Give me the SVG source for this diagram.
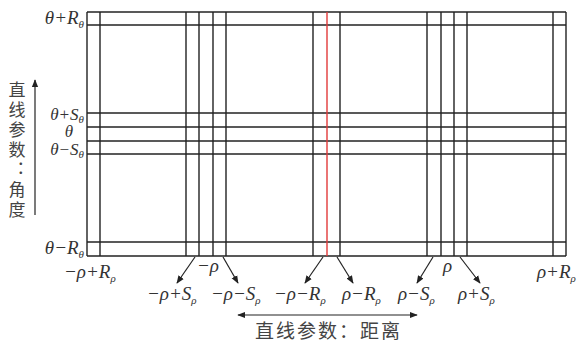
<svg xmlns="http://www.w3.org/2000/svg" width="582" height="345" viewBox="0 0 582 345">
<defs>
<marker id="ah" viewBox="0 0 10 10" refX="9" refY="5" markerWidth="8" markerHeight="8" markerUnits="userSpaceOnUse" orient="auto">
<path d="M0,1 L10,5 L0,9 Z" fill="#222"/>
</marker>
<marker id="ahs" viewBox="0 0 10 10" refX="9" refY="5" markerWidth="8" markerHeight="8" markerUnits="userSpaceOnUse" orient="auto-start-reverse">
<path d="M0,1 L10,5 L0,9 Z" fill="#222"/>
</marker>
</defs>
<style>
.g line{stroke:#222;stroke-width:1.4}
.red{stroke:#e23a3a !important}
.m{font-family:"Liberation Serif","DejaVu Serif","Times New Roman",serif;font-style:italic;font-size:19px;fill:#333}
.t{font-size:17px}
.s{font-size:11px}
.c{font-family:"Noto Sans CJK SC","Noto Sans CJK JP",sans-serif;font-size:17px;fill:#444;writing-mode:vertical-rl;letter-spacing:3px}
.ch{font-family:"Noto Sans CJK SC","Noto Sans CJK JP",sans-serif;font-size:19px;fill:#444;letter-spacing:2px}
.cn line{stroke:#222;stroke-width:1.2;fill:none}
</style>
<rect width="582" height="345" fill="#fff"/>
<g id="grid" class="g">
<line x1="87" y1="12" x2="566" y2="12"/>
<line x1="87" y1="25" x2="566" y2="25"/>
<line x1="87" y1="113" x2="566" y2="113"/>
<line x1="87" y1="127" x2="566" y2="127"/>
<line x1="87" y1="141" x2="566" y2="141"/>
<line x1="87" y1="154" x2="566" y2="154"/>
<line x1="87" y1="242" x2="566" y2="242"/>
<line x1="87" y1="256" x2="566" y2="256"/>
<line x1="87" y1="12" x2="87" y2="256"/>
<line x1="100" y1="12" x2="100" y2="256"/>
<line x1="186" y1="12" x2="186" y2="256"/>
<line x1="199" y1="12" x2="199" y2="256"/>
<line x1="213" y1="12" x2="213" y2="256"/>
<line x1="226" y1="12" x2="226" y2="256"/>
<line x1="313" y1="12" x2="313" y2="256"/>
<line x1="340" y1="12" x2="340" y2="256"/>
<line x1="427" y1="12" x2="427" y2="256"/>
<line x1="441" y1="12" x2="441" y2="256"/>
<line x1="454" y1="12" x2="454" y2="256"/>
<line x1="467" y1="12" x2="467" y2="256"/>
<line x1="553" y1="12" x2="553" y2="256"/>
<line x1="566" y1="12" x2="566" y2="256"/>
<line class="red" x1="327" y1="12" x2="327" y2="256"/>
</g>
<g id="connectors" class="cn">
<line x1="35" y1="215" x2="35" y2="80" marker-end="url(#ah)"/>
<line x1="238" y1="315" x2="417" y2="315" marker-start="url(#ahs)" marker-end="url(#ah)"/>
<line x1="195" y1="257" x2="177" y2="283" marker-end="url(#ah)"/>
<line x1="223" y1="257" x2="238" y2="283" marker-end="url(#ah)"/>
<line x1="323" y1="257" x2="305" y2="283" marker-end="url(#ah)"/>
<line x1="337" y1="257" x2="353" y2="283" marker-end="url(#ah)"/>
<line x1="433" y1="257" x2="417" y2="283" marker-end="url(#ah)"/>
<line x1="460" y1="257" x2="480" y2="283" marker-end="url(#ah)"/>
</g>
<g id="theta-labels">
<text class="m" x="84" y="24" text-anchor="end">θ+R<tspan class="s" dy="4">θ</tspan></text>
<text class="m t" x="84" y="120" text-anchor="end">θ+S<tspan class="s" dy="3">θ</tspan></text>
<text class="m t" x="69" y="137" text-anchor="middle">θ</text>
<text class="m t" x="84" y="155" text-anchor="end">θ−S<tspan class="s" dy="3">θ</tspan></text>
<text class="m" x="84" y="254" text-anchor="end">θ−R<tspan class="s" dy="4">θ</tspan></text>
</g>
<g id="rho-labels">
<text class="m" x="64" y="278">−ρ+R<tspan class="s" dy="4">ρ</tspan></text>
<text class="m" x="147" y="300">−ρ+S<tspan class="s" dy="4">ρ</tspan></text>
<text class="m" x="197" y="272">−ρ</text>
<text class="m" x="211" y="300">−ρ−S<tspan class="s" dy="4">ρ</tspan></text>
<text class="m" x="274" y="300">−ρ−R<tspan class="s" dy="4">ρ</tspan></text>
<text class="m" x="342" y="300">ρ−R<tspan class="s" dy="4">ρ</tspan></text>
<text class="m" x="443" y="272">ρ</text>
<text class="m" x="398" y="300">ρ−S<tspan class="s" dy="4">ρ</tspan></text>
<text class="m" x="458" y="300">ρ+S<tspan class="s" dy="4">ρ</tspan></text>
<text class="m" x="537" y="278">ρ+R<tspan class="s" dy="4">ρ</tspan></text>
</g>
<g id="axis-labels">
<text class="c" x="17" y="81">直线参数：角度</text>
<text class="ch" x="255" y="338">直线参数：距离</text>
</g>
</svg>
